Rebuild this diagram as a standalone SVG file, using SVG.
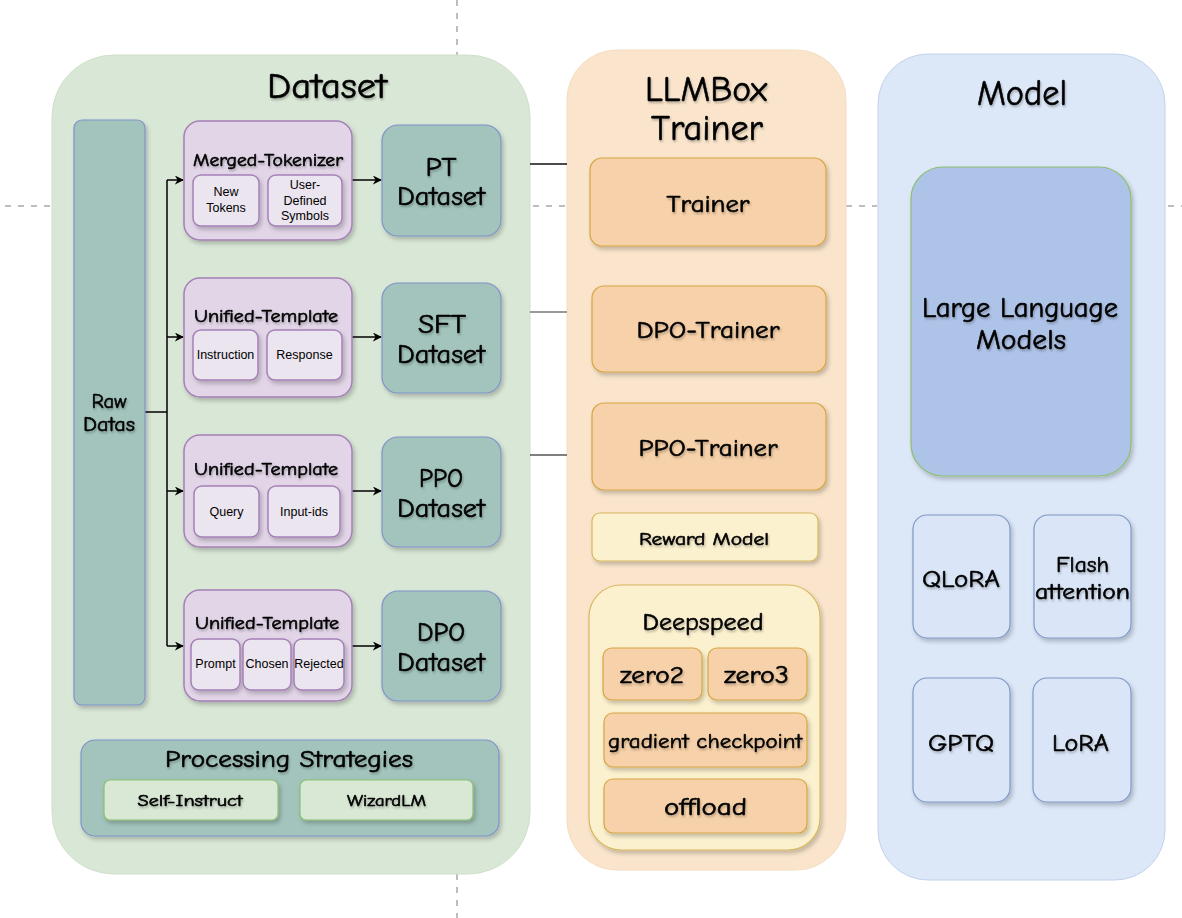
<svg xmlns="http://www.w3.org/2000/svg" width="1182" height="918" viewBox="0 0 1182 918">
<defs>
<filter id="sh" x="-20%" y="-20%" width="140%" height="140%"><feDropShadow dx="2" dy="3" stdDeviation="2" flood-color="#000" flood-opacity="0.22"/></filter>
<filter id="tsh" x="-10%" y="-20%" width="120%" height="150%"><feDropShadow dx="1" dy="2" stdDeviation="1" flood-color="#000" flood-opacity="0.25"/></filter>
<marker id="arr" viewBox="0 0 10 10" refX="9" refY="5" markerWidth="9" markerHeight="9" markerUnits="userSpaceOnUse" orient="auto"><path d="M0,0 L10,5 L0,10 L3,5 Z" fill="#000"/></marker>
<style>
.t{font-family:"Comic Sans MS","Comic Neue","Noto Sans",sans-serif;fill:#000;stroke:#000;stroke-width:0.6;text-anchor:middle;filter:url(#tsh)}
.h{font-family:"Liberation Sans",Arial,sans-serif;fill:#000;text-anchor:middle;font-size:12.5px}
.teal{fill:#a2c4bc;stroke:#7f93c9;stroke-width:1.2}
.purp{fill:#e1d5e7;stroke:#a580b7;stroke-width:1.5}
.inner{fill:#ebe5ef;stroke:#a580b7;stroke-width:1.5}
.org{fill:#f7d1a9;stroke:#d6a640;stroke-width:1.2}
.yel{fill:#fcf1cf;stroke:#d8b85c;stroke-width:1.2}
.blu{fill:#dae6f8;stroke:#7f98c6;stroke-width:1.2}
.grn{fill:#d9e8d5;stroke:#8cbf6f;stroke-width:1.2}
.dash{stroke:#bdbdbd;stroke-width:2;stroke-dasharray:6 7;fill:none}
.c{stroke:#000;stroke-width:1.5;fill:none}
</style>
</defs>
<rect width="1182" height="918" fill="#fff"/>
<g id="guides">
<line class="dash" x1="457" y1="0" x2="457" y2="55"/>
<line class="dash" x1="457" y1="874" x2="457" y2="918"/>
<line class="dash" x1="5" y1="206" x2="50" y2="206"/>
<line class="dash" x1="533" y1="206" x2="566" y2="206"/>
<line class="dash" x1="846" y1="206" x2="877" y2="206"/>
<line class="dash" x1="1168" y1="206" x2="1182" y2="206"/>
</g>
<g id="dataset-group">
<rect x="52" y="55" width="478" height="819" rx="62" fill="#d9e7d6" stroke="#cfe0c9"/>
<text class="t" x="327" y="98" font-size="36" textLength="120" lengthAdjust="spacingAndGlyphs">Dataset</text>
</g>
<g id="trainer-group">
<rect x="567" y="50" width="279" height="820" rx="50" fill="#fae5cc" stroke="#f5dcc0"/>
<text class="t" x="706" y="101" font-size="36" textLength="122" lengthAdjust="spacingAndGlyphs">LLMBox</text>
<text class="t" x="707" y="140" font-size="36" textLength="112" lengthAdjust="spacingAndGlyphs">Trainer</text>
</g>
<g id="model-group">
<rect x="878" y="54" width="287" height="826" rx="50" fill="#dce7f8" stroke="#c3d2ec"/>
<text class="t" x="1022" y="105" font-size="36" textLength="90" lengthAdjust="spacingAndGlyphs">Model</text>
</g>
<g id="connectors">
<line class="c" x1="145" y1="412" x2="167" y2="412"/>
<line class="c" x1="167" y1="180" x2="167" y2="646"/>
<line class="c" x1="167" y1="180" x2="183" y2="180" marker-end="url(#arr)"/>
<line class="c" x1="167" y1="337" x2="183" y2="337" marker-end="url(#arr)"/>
<line class="c" x1="167" y1="491" x2="183" y2="491" marker-end="url(#arr)"/>
<line class="c" x1="167" y1="646" x2="183" y2="646" marker-end="url(#arr)"/>
<line class="c" x1="352" y1="180" x2="381" y2="180" marker-end="url(#arr)"/>
<line class="c" x1="352" y1="337" x2="381" y2="337" marker-end="url(#arr)"/>
<line class="c" x1="352" y1="491" x2="381" y2="491" marker-end="url(#arr)"/>
<line class="c" x1="352" y1="646" x2="381" y2="646" marker-end="url(#arr)"/>
<line x1="530" y1="164" x2="567" y2="164" stroke="#111" stroke-width="1.5"/>
<line x1="530" y1="312" x2="567" y2="312" stroke="#777" stroke-width="1.5"/>
<line x1="530" y1="455" x2="567" y2="455" stroke="#555" stroke-width="1.5"/>
</g>
<g id="raw-datas">
<rect class="teal" x="74" y="120" width="71" height="585" rx="8" filter="url(#sh)"/>
<text class="t" x="109" y="408" font-size="21" textLength="35" lengthAdjust="spacingAndGlyphs">Raw</text>
<text class="t" x="109" y="431" font-size="21" textLength="52" lengthAdjust="spacingAndGlyphs">Datas</text>
</g>
<g id="merged-tokenizer">
<rect class="purp" x="184" y="121" width="168" height="119" rx="16" filter="url(#sh)"/>
<text class="t" x="268" y="166" font-size="18" stroke-width="0.4" textLength="150" lengthAdjust="spacingAndGlyphs">Merged-Tokenizer</text>
<rect class="inner" x="193" y="175" width="66" height="51" rx="8" filter="url(#sh)"/>
<text class="h" x="226" y="196">New</text>
<text class="h" x="226" y="212">Tokens</text>
<rect class="inner" x="268" y="175" width="74" height="51" rx="8" filter="url(#sh)"/>
<text class="h" x="305" y="189">User-</text>
<text class="h" x="305" y="205">Defined</text>
<text class="h" x="305" y="220">Symbols</text>
</g>
<g id="sft-template">
<rect class="purp" x="184" y="278" width="168" height="119" rx="16" filter="url(#sh)"/>
<text class="t" x="266" y="322" font-size="18" stroke-width="0.4" textLength="144" lengthAdjust="spacingAndGlyphs">Unified-Template</text>
<rect class="inner" x="193" y="330" width="65" height="50" rx="8" filter="url(#sh)"/>
<text class="h" x="225.5" y="359">Instruction</text>
<rect class="inner" x="267" y="330" width="75" height="50" rx="8" filter="url(#sh)"/>
<text class="h" x="304.5" y="359">Response</text>
</g>
<g id="ppo-template">
<rect class="purp" x="184" y="435" width="168" height="112" rx="16" filter="url(#sh)"/>
<text class="t" x="266" y="475" font-size="18" stroke-width="0.4" textLength="144" lengthAdjust="spacingAndGlyphs">Unified-Template</text>
<rect class="inner" x="194" y="486" width="65" height="51" rx="8" filter="url(#sh)"/>
<text class="h" x="226.5" y="516">Query</text>
<rect class="inner" x="268" y="486" width="72" height="51" rx="8" filter="url(#sh)"/>
<text class="h" x="304" y="516">Input-ids</text>
</g>
<g id="dpo-template">
<rect class="purp" x="184" y="590" width="168" height="111" rx="16" filter="url(#sh)"/>
<text class="t" x="267" y="629" font-size="18" stroke-width="0.4" textLength="144" lengthAdjust="spacingAndGlyphs">Unified-Template</text>
<rect class="inner" x="191" y="639" width="49" height="51" rx="8" filter="url(#sh)"/>
<text class="h" x="215.5" y="668">Prompt</text>
<rect class="inner" x="243" y="639" width="48" height="51" rx="8" filter="url(#sh)"/>
<text class="h" x="267" y="668">Chosen</text>
<rect class="inner" x="294" y="639" width="50" height="51" rx="8" filter="url(#sh)"/>
<text class="h" x="319" y="668">Rejected</text>
</g>
<g id="pt-dataset">
<rect class="teal" x="382" y="125" width="119" height="111" rx="16" filter="url(#sh)"/>
<text class="t" x="441" y="176" font-size="26" textLength="31" lengthAdjust="spacingAndGlyphs">PT</text>
<text class="t" x="441" y="205" font-size="26" textLength="88" lengthAdjust="spacingAndGlyphs">Dataset</text>
</g>
<g id="sft-dataset">
<rect class="teal" x="382" y="283" width="119" height="110" rx="16" filter="url(#sh)"/>
<text class="t" x="442" y="333" font-size="26" textLength="48" lengthAdjust="spacingAndGlyphs">SFT</text>
<text class="t" x="441" y="363" font-size="26" textLength="88" lengthAdjust="spacingAndGlyphs">Dataset</text>
</g>
<g id="ppo-dataset">
<rect class="teal" x="382" y="437" width="119" height="110" rx="16" filter="url(#sh)"/>
<text class="t" x="441" y="487" font-size="26" textLength="44" lengthAdjust="spacingAndGlyphs">PPO</text>
<text class="t" x="441" y="517" font-size="26" textLength="88" lengthAdjust="spacingAndGlyphs">Dataset</text>
</g>
<g id="dpo-dataset">
<rect class="teal" x="382" y="591" width="119" height="110" rx="16" filter="url(#sh)"/>
<text class="t" x="441" y="641" font-size="26" textLength="48" lengthAdjust="spacingAndGlyphs">DPO</text>
<text class="t" x="441" y="671" font-size="26" textLength="88" lengthAdjust="spacingAndGlyphs">Dataset</text>
</g>
<g id="processing-strategies">
<rect class="teal" x="81" y="740" width="418" height="96" rx="14" filter="url(#sh)"/>
<text class="t" x="289" y="767" font-size="24" textLength="248" lengthAdjust="spacingAndGlyphs">Processing Strategies</text>
<rect class="grn" x="104" y="780" width="174" height="40" rx="6" filter="url(#sh)"/>
<text class="t" x="190" y="806" font-size="16" stroke-width="0.3" textLength="105" lengthAdjust="spacingAndGlyphs">Self-Instruct</text>
<rect class="grn" x="300" y="780" width="173" height="40" rx="6" filter="url(#sh)"/>
<text class="t" x="386.5" y="806" font-size="16" stroke-width="0.3" textLength="79" lengthAdjust="spacingAndGlyphs">WizardLM</text>
</g>
<g id="trainer">
<rect class="org" x="590" y="158" width="236" height="88" rx="12" filter="url(#sh)"/>
<text class="t" x="708" y="212" font-size="25" textLength="83" lengthAdjust="spacingAndGlyphs">Trainer</text>
</g>
<g id="dpo-trainer">
<rect class="org" x="592" y="286" width="234" height="86" rx="12" filter="url(#sh)"/>
<text class="t" x="708" y="338" font-size="25" textLength="143" lengthAdjust="spacingAndGlyphs">DPO-Trainer</text>
</g>
<g id="ppo-trainer">
<rect class="org" x="592" y="403" width="234" height="87" rx="12" filter="url(#sh)"/>
<text class="t" x="708" y="456" font-size="25" textLength="139" lengthAdjust="spacingAndGlyphs">PPO-Trainer</text>
</g>
<g id="reward-model">
<rect class="yel" x="592" y="513" width="226" height="48" rx="8" filter="url(#sh)"/>
<text class="t" x="704" y="545" font-size="18" stroke-width="0.4" textLength="130" lengthAdjust="spacingAndGlyphs">Reward Model</text>
</g>
<g id="deepspeed">
<rect class="yel" x="589" y="585" width="231" height="265" rx="32" filter="url(#sh)"/>
<text class="t" x="703" y="630" font-size="24" textLength="121" lengthAdjust="spacingAndGlyphs">Deepspeed</text>
<rect class="org" x="603" y="648" width="99" height="52" rx="9" filter="url(#sh)"/>
<text class="t" x="652" y="683" font-size="25" textLength="64" lengthAdjust="spacingAndGlyphs">zero2</text>
<rect class="org" x="708" y="648" width="99" height="52" rx="9" filter="url(#sh)"/>
<text class="t" x="756.5" y="683" font-size="25" textLength="65" lengthAdjust="spacingAndGlyphs">zero3</text>
<rect class="org" x="604" y="713" width="203" height="54" rx="9" filter="url(#sh)"/>
<text class="t" x="705" y="748" font-size="21" stroke-width="0.5" textLength="194" lengthAdjust="spacingAndGlyphs">gradient checkpoint</text>
<rect class="org" x="604" y="779" width="203" height="54" rx="9" filter="url(#sh)"/>
<text class="t" x="705.5" y="815" font-size="25" textLength="83" lengthAdjust="spacingAndGlyphs">offload</text>
</g>
<g id="llm">
<rect x="911" y="167" width="220" height="309" rx="32" fill="#aec3e8" stroke="#8cbf6f" stroke-width="1.2" filter="url(#sh)"/>
<text class="t" x="1020" y="317" font-size="28" textLength="196" lengthAdjust="spacingAndGlyphs">Large Language</text>
<text class="t" x="1021" y="349" font-size="28" textLength="90" lengthAdjust="spacingAndGlyphs">Models</text>
</g>
<g id="qlora">
<rect class="blu" x="913" y="515" width="97" height="123" rx="14" filter="url(#sh)"/>
<text class="t" x="961" y="587" font-size="25" textLength="78" lengthAdjust="spacingAndGlyphs">QLoRA</text>
</g>
<g id="flash-attention">
<rect class="blu" x="1034" y="515" width="97" height="123" rx="14" filter="url(#sh)"/>
<text class="t" x="1082.5" y="572" font-size="22" textLength="53" lengthAdjust="spacingAndGlyphs">Flash</text>
<text class="t" x="1082.5" y="599" font-size="22" textLength="95" lengthAdjust="spacingAndGlyphs">attention</text>
</g>
<g id="gptq">
<rect class="blu" x="913" y="678" width="97" height="124" rx="14" filter="url(#sh)"/>
<text class="t" x="961" y="751" font-size="25" textLength="66" lengthAdjust="spacingAndGlyphs">GPTQ</text>
</g>
<g id="lora">
<rect class="blu" x="1033" y="678" width="98" height="124" rx="14" filter="url(#sh)"/>
<text class="t" x="1080.5" y="751" font-size="25" textLength="57" lengthAdjust="spacingAndGlyphs">LoRA</text>
</g>
</svg>
